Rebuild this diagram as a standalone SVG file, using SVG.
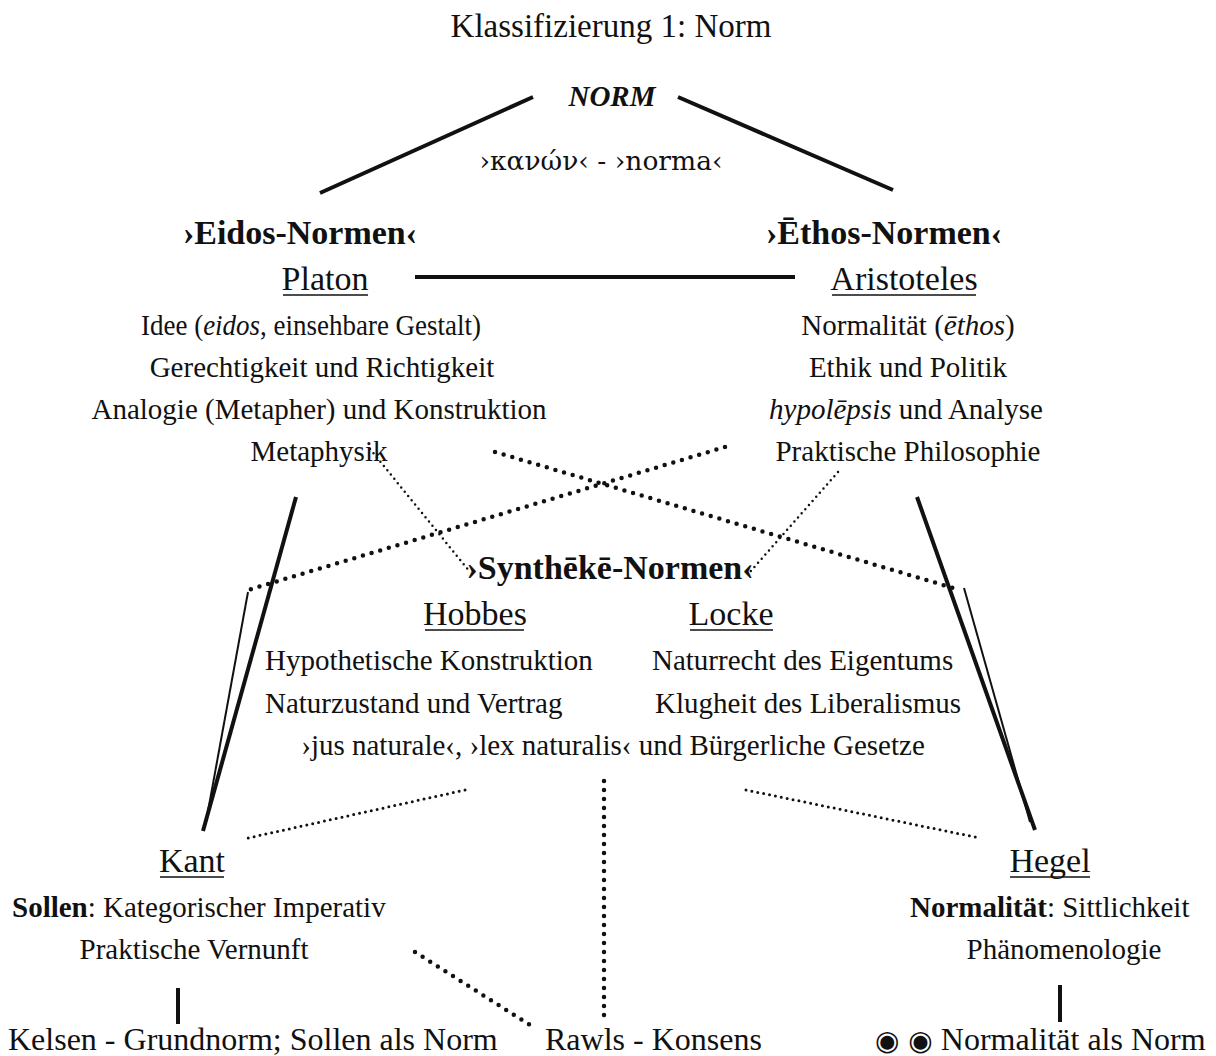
<svg xmlns="http://www.w3.org/2000/svg" width="1216" height="1056" viewBox="0 0 1216 1056">
  <style>
    text { font-family: "Liberation Serif", "Times New Roman", serif; font-size: 29px; fill: #111; }
    .title { font-size: 33px; }
    .c { text-anchor: middle; }
    .h { font-weight: bold; font-size: 34px; }
    .name { font-size: 34px; }
    .low { font-size: 32px; }
    .it { font-style: italic; }
    .b { font-weight: bold; }
    .solid { stroke: #111; stroke-width: 4; fill: none; stroke-linecap: butt; }
    .thin { stroke: #111; stroke-width: 2; fill: none; }
    .ul { stroke: #111; stroke-width: 1.5; }
    .dotH { stroke: #111; stroke-width: 4.5; stroke-dasharray: 0 9; stroke-linecap: round; fill: none; }
    .dotM { stroke: #111; stroke-width: 3; stroke-dasharray: 0 6; stroke-linecap: round; fill: none; }
    .dotS { stroke: #111; stroke-width: 2.5; stroke-dasharray: 0 5.5; stroke-linecap: round; fill: none; }
  </style>
  <rect width="1216" height="1056" fill="#fff"/>

  <text class="title c" x="611" y="37">Klassifizierung 1: Norm</text>

  <!-- connectors -->
  <g id="connectors">
    <line class="solid" x1="533" y1="97" x2="320" y2="193"/>
    <line class="solid" x1="678" y1="97" x2="893" y2="190"/>
    <line class="solid" stroke-width="5" x1="415" y1="277" x2="795" y2="277"/>
    <!-- Platon/Metaphysik to Kant -->
    <line class="solid" x1="296" y1="497" x2="203" y2="831"/>
    <line class="thin" x1="248" y1="592" x2="206" y2="822"/>
    <!-- Aristoteles to Hegel -->
    <line class="solid" x1="917" y1="497" x2="1035" y2="830"/>
    <line class="thin" x1="964" y1="588" x2="1030" y2="822"/>
    <!-- crossing dotted lines -->
    <line class="dotH" x1="495" y1="452" x2="960" y2="590"/>
    <line class="dotH" x1="725" y1="447" x2="248" y2="590"/>
    <line class="dotS" x1="370" y1="449" x2="470" y2="572"/>
    <line class="dotS" x1="838" y1="472" x2="750" y2="572"/>
    <!-- Synthēkē to Kant / Hegel -->
    <line class="dotM" x1="465" y1="790" x2="248" y2="838"/>
    <line class="dotM" x1="746" y1="790" x2="980" y2="838"/>
    <!-- Synthēkē to Rawls -->
    <line class="dotH" x1="604" y1="781" x2="604" y2="1022"/>
    <line class="dotH" x1="415" y1="952" x2="530" y2="1025"/>
    <!-- Kant / Hegel downwards -->
    <line class="solid" x1="178" y1="988" x2="178" y2="1024"/>
    <line class="solid" x1="1060" y1="985" x2="1060" y2="1022"/>
  </g>

  <g id="norm">
    <text class="c it b" x="612" y="106" font-size="29">NORM</text>
    <text class="c" x="601" y="170" style="font-family:'DejaVu Serif','Liberation Serif',serif;font-size:26.5px">›κανών‹ - ›norma‹</text>
  </g>

  <g id="eidos">
    <text class="h c" x="300" y="244">›Eidos-Normen‹</text>
    <text class="name c" x="325" y="290">Platon</text>
    <line class="ul" x1="283" y1="295" x2="368" y2="295"/>
    <text class="c" x="311" y="335" textLength="340" lengthAdjust="spacingAndGlyphs">Idee (<tspan class="it">eidos</tspan>, einsehbare Gestalt)</text>
    <text class="c" x="322" y="377">Gerechtigkeit und Richtigkeit</text>
    <text class="c" x="319" y="419">Analogie (Metapher) und Konstruktion</text>
    <text class="c" x="319" y="461">Metaphysik</text>
  </g>

  <g id="ethos">
    <text class="h c" x="884" y="244">›Ēthos-Normen‹</text>
    <text class="name c" x="904" y="290">Aristoteles</text>
    <line class="ul" x1="832" y1="295" x2="976" y2="295"/>
    <text class="c" x="908" y="335">Normalität (<tspan class="it">ēthos</tspan>)</text>
    <text class="c" x="908" y="377">Ethik und Politik</text>
    <text class="c" x="906" y="419"><tspan class="it">hypolēpsis</tspan> und Analyse</text>
    <text class="c" x="908" y="461">Praktische Philosophie</text>
  </g>

  <g id="syntheke">
    <text class="h c" x="610" y="579">›Synthēkē-Normen‹</text>
    <text class="name c" x="475" y="625">Hobbes</text>
    <line class="ul" x1="425" y1="630" x2="524" y2="630"/>
    <text class="name c" x="731" y="625">Locke</text>
    <line class="ul" x1="690" y1="630" x2="773" y2="630"/>
    <text x="265" y="670">Hypothetische Konstruktion</text>
    <text x="265" y="713">Naturzustand und Vertrag</text>
    <text x="652" y="670">Naturrecht des Eigentums</text>
    <text x="655" y="713">Klugheit des Liberalismus</text>
    <text class="c" x="613" y="755">›jus naturale‹, ›lex naturalis‹ und Bürgerliche Gesetze</text>
  </g>

  <g id="kant">
    <text class="name c" x="192" y="872">Kant</text>
    <line class="ul" x1="160" y1="877" x2="224" y2="877"/>
    <text x="12" y="917"><tspan class="b">Sollen</tspan>: Kategorischer Imperativ</text>
    <text class="c" x="194" y="959">Praktische Vernunft</text>
  </g>

  <g id="hegel">
    <text class="name c" x="1050" y="872">Hegel</text>
    <line class="ul" x1="1010" y1="877" x2="1090" y2="877"/>
    <text x="910" y="917"><tspan class="b">Normalität</tspan>: Sittlichkeit</text>
    <text class="c" x="1064" y="959">Phänomenologie</text>
  </g>

  <g id="kelsen">
    <text class="low" x="8" y="1050">Kelsen - Grundnorm; Sollen als Norm</text>
  </g>

  <g id="rawls">
    <text class="low" x="545" y="1050">Rawls - Konsens</text>
  </g>

  <g id="normalitaet">
    <text class="low" x="875" y="1050"><tspan style="font-family:'DejaVu Sans',sans-serif;font-size:28px">◉ ◉</tspan> Normalität als Norm</text>
  </g>
</svg>
